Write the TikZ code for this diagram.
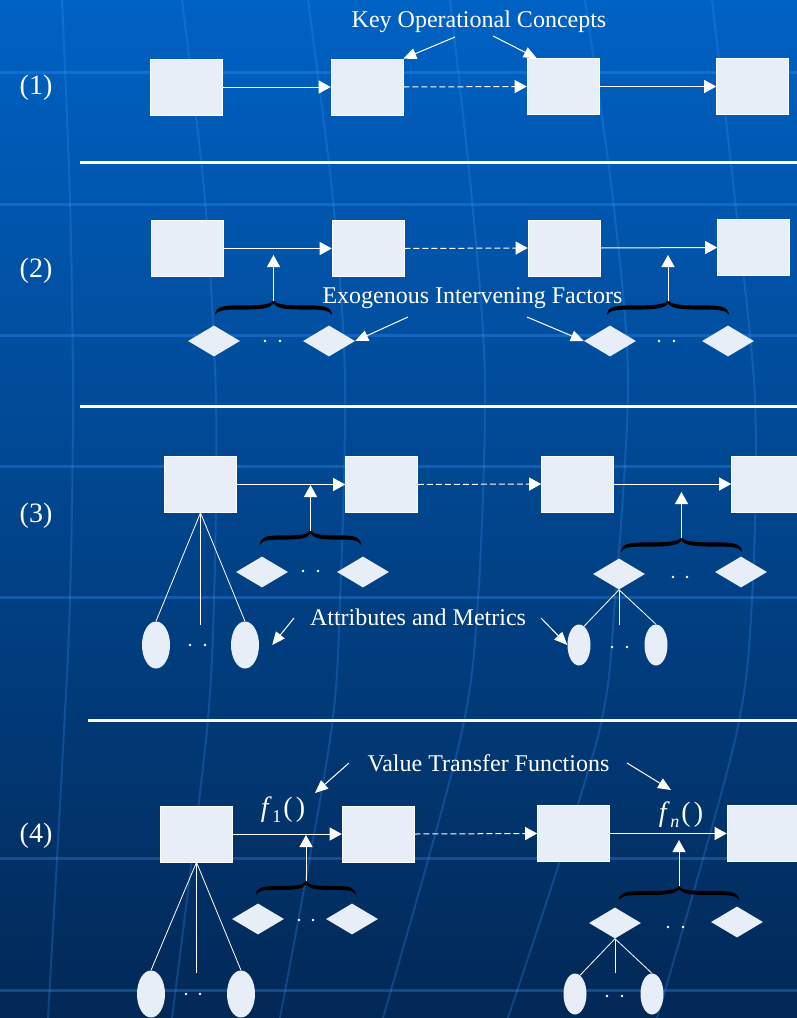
\documentclass[tikz,border=0pt]{standalone}
\usepackage{fontspec}
\setmainfont{Liberation Serif}
\usetikzlibrary{arrows.meta,shapes.geometric,calc}
\definecolor{boxfill}{RGB}{232,238,248}
\definecolor{bgtop}{RGB}{0,98,196}
\definecolor{bgmid}{RGB}{0,70,150}
\definecolor{bgbot}{RGB}{2,40,86}
\definecolor{gridc}{RGB}{60,150,255}
\begin{document}
\begin{tikzpicture}[x=1pt,y=-1pt,
  box/.style={rectangle, fill=boxfill, draw=white, line width=0.6pt, minimum width=72pt, minimum height=56pt, inner sep=0pt},
  dia/.style={diamond, fill=boxfill, minimum width=52pt, minimum height=31pt, inner sep=0pt},
  ell/.style={ellipse, fill=boxfill, minimum width=28pt, minimum height=47pt, inner sep=0pt},
  sell/.style={ellipse, fill=boxfill, minimum width=23pt, minimum height=41pt, inner sep=0pt},
  flow/.style={draw=white, line width=1pt, -{Triangle[length=12pt,width=13pt]}},
  dflow/.style={flow, dash pattern=on 6pt off 3pt},
  note/.style={draw=white, line width=1pt, -{Triangle[length=13pt,width=11pt]}},
  fan/.style={draw=white, line width=0.8pt},
  lab/.style={text=white, font=\fontsize{24}{28}\selectfont, inner sep=0pt, anchor=base},
  flab/.style={text=white, font=\fontsize{28}{32}\selectfont, inner sep=0pt},
  rowlab/.style={text=white, font=\fontsize{28}{32}\selectfont, inner sep=0pt},
  sep/.style={draw=white, line width=3pt},
  gridline/.style={draw=gridc, opacity=0.3, line width=3pt},
  gridcurve/.style={draw=gridc, opacity=0.25, line width=2pt},
  cbrace/.pic={
    \fill[black] (-1,0) .. controls (-0.99,0.5) and (-0.9,0.64) .. (-0.6,0.64)
      .. controls (-0.2,0.64) and (-0.05,0.68) .. (0,1)
      .. controls (0.05,0.68) and (0.2,0.64) .. (0.6,0.64)
      .. controls (0.9,0.64) and (0.99,0.5) .. (1,0)
      .. controls (0.95,0.3) and (0.88,0.36) .. (0.6,0.36)
      .. controls (0.2,0.36) and (0.07,0.42) .. (0,0.76)
      .. controls (-0.07,0.42) and (-0.2,0.36) .. (-0.6,0.36)
      .. controls (-0.88,0.36) and (-0.95,0.3) .. (-1,0) -- cycle;
  },
]
\useasboundingbox (0,0) rectangle (797,1018);
\begin{scope}
\clip (0,0) rectangle (797,1018);
% background
\shade[top color=bgtop, middle color=bgmid, bottom color=bgbot] (0,0) rectangle (797,1018);
\foreach \yy in {72,204,335,466,597,858,990} \draw[gridline] (0,\yy) -- (797,\yy);
\draw[gridcurve] plot[smooth] coordinates {(62,0) (70,200) (73,400) (70,600) (63,750) (48,1018)};
\draw[gridcurve] plot[smooth] coordinates {(182,0) (205,200) (216,400) (214,600) (206,740) (172,1018)};
\draw[gridcurve] plot[smooth] coordinates {(308,0) (333,200) (345,380) (340,600) (330,740) (280,1018)};
\draw[gridcurve] plot[smooth] coordinates {(450,0) (472,200) (485,380) (478,600) (460,740) (383,1018)};
\draw[gridcurve] plot[smooth] coordinates {(585,0) (613,200) (628,380) (615,600) (597,740) (508,1018)};
\draw[gridcurve] plot[smooth] coordinates {(712,0) (735,200) (755,400) (752,600) (735,740) (657,1018)};

% separators
\draw[sep] (80,162) -- (797,162);
\draw[sep] (80,406) -- (797,406);
\draw[sep] (88,720) -- (797,720);

% row labels
\node[rowlab] (n1) at (36,88) {(1)};
\node[rowlab] (n2) at (36,271) {(2)};
\node[rowlab] (n3) at (36,516) {(3)};
\node[rowlab] (n4) at (36,836) {(4)};

% ---------- row 1
\node[box] (b1a) at (186,87) {};
\node[box] (b1b) at (367,87) {};
\node[box] (b1c) at (563,86.5) {};
\node[box] (b1d) at (752.5,86.5) {};
\draw[flow] (b1a.east) -- (b1b.west);
\draw[dflow] (b1b.east) -- (b1c.west);
\draw[flow] (b1c.east) -- (b1d.west);
\node[lab] (koc) at (479,27) {Key Operational Concepts};
\coordinate (k1) at (455,37);
\coordinate (k2) at (493,36);
\draw[note] (k1) -- (b1b.north east);
\draw[note] (k2) -- ($(b1c.north west)+(10,0)$);

% ---------- row 2
\node[box] (b2a) at (187,248.5) {};
\node[box] (b2b) at (368,248.5) {};
\node[box] (b2c) at (564,248) {};
\node[box] (b2d) at (753.5,247.5) {};
\draw[flow] (b2a.east) -- (b2b.west);
\draw[dflow] (b2b.east) -- (b2c.west);
\draw[flow] (b2c.east) -- (b2d.west);
\node[dia] (d2a) at (214,341) {};
\node[dia] (d2b) at (329,341) {};
\node[dia] (d2c) at (610,341) {};
\node[dia] (d2d) at (728,341) {};
\foreach \xx in {265,280,659,674} \fill[white] (\xx,341) circle[radius=1.4pt];
\pic[xscale=58.5, yscale=-15] at (273.5,315) {cbrace};
\pic[xscale=61, yscale=-15] at (668,315) {cbrace};
\coordinate (r2a) at (273.5,301);
\coordinate (t2a) at (273.5,255);
\coordinate (r2c) at (668,301);
\coordinate (t2c) at (668,255);
\draw[flow] (r2a) -- (t2a);
\draw[flow] (r2c) -- (t2c);
\node[lab] (eif) at (472.5,303) {Exogenous Intervening Factors};
\coordinate (x1) at (408,317);
\coordinate (x2) at (527,317);
\draw[note] (x1) -- (d2b.east);
\draw[note] (x2) -- (d2c.west);

% ---------- row 3
\node[box] (b3a) at (200.5,484.5) {};
\node[box] (b3b) at (381.5,484.5) {};
\node[box] (b3c) at (577.5,484) {};
\node[box] (b3d) at (767.5,484) {};
\draw[flow] (b3a.east) -- (b3b.west);
\draw[dflow] (b3b.east) -- (b3c.west);
\draw[flow] (b3c.east) -- (b3d.west);
\node[dia] (d3a) at (262,572) {};
\node[dia] (d3b) at (363,572) {};
\node[dia] (d3c) at (619,574) {};
\node[dia] (d3d) at (741,572) {};
\fill[white] (303,571) circle[radius=1.4pt] (318,571) circle[radius=1.4pt];
\fill[white] (673,577) circle[radius=1.4pt] (687,577) circle[radius=1.4pt];
\pic[xscale=50.5, yscale=-15] at (310.5,545) {cbrace};
\pic[xscale=60.5, yscale=-15] at (681.5,552) {cbrace};
\coordinate (r3a) at (310.5,531);
\coordinate (t3a) at (310.5,485);
\coordinate (r3c) at (681.5,538);
\coordinate (t3c) at (681.5,492);
\draw[flow] (r3a) -- (t3a);
\draw[flow] (r3c) -- (t3c);
\node[ell] (e3a) at (156,645) {};
\node[ell] (e3b) at (245,645) {};
\node[sell] (e3c) at (579,645) {};
\node[sell] (e3d) at (656,645) {};
\fill[white] (190,645) circle[radius=1.4pt] (205,645) circle[radius=1.4pt];
\fill[white] (612,647) circle[radius=1.4pt] (627,647) circle[radius=1.4pt];
\coordinate (m3a) at (200.5,625);
\coordinate (m3c) at (619,625);
\draw[fan] (b3a.south) -- (e3a.north);
\draw[fan] (b3a.south) -- (m3a);
\draw[fan] (b3a.south) -- (e3b.north);
\draw[fan] (d3c.south) -- (e3c.75);
\draw[fan] (d3c.south) -- (m3c);
\draw[fan] (d3c.south) -- (e3d.north);
\node[lab] (aam) at (418,625) {Attributes and Metrics};
\coordinate (a1) at (294,618);
\coordinate (a2) at (541,618);
\draw[note] (a1) -- ($(e3b.east)+(13,0)$);
\draw[note] (a2) -- (e3c.west);

% ---------- row 4
\node[box] (b4a) at (196.5,834) {};
\node[box] (b4b) at (378,834) {};
\node[box] (b4c) at (573.5,833.5) {};
\node[box] (b4d) at (763,833.5) {};
\draw[flow] (b4a.east) -- (b4b.west);
\draw[dflow] (b4b.east) -- (b4c.west);
\draw[flow] (b4c.east) -- (b4d.west);
\node[dia] (d4a) at (258,919) {};
\node[dia] (d4b) at (352,919) {};
\node[dia] (d4c) at (615,923) {};
\node[dia] (d4d) at (737,922) {};
\fill[white] (299,920) circle[radius=1.4pt] (313,920) circle[radius=1.4pt];
\fill[white] (668,927) circle[radius=1.4pt] (683,927) circle[radius=1.4pt];
\pic[xscale=50, yscale=-14] at (306,895) {cbrace};
\pic[xscale=60, yscale=-14] at (679,900) {cbrace};
\coordinate (r4a) at (306,881);
\coordinate (t4a) at (306,835);
\coordinate (r4c) at (679,886);
\coordinate (t4c) at (679,840);
\draw[flow] (r4a) -- (t4a);
\draw[flow] (r4c) -- (t4c);
\node[ell] (e4a) at (151,994) {};
\node[ell] (e4b) at (241,994) {};
\node[sell] (e4c) at (575,994) {};
\node[sell] (e4d) at (652,994) {};
\fill[white] (186,994) circle[radius=1.4pt] (200,994) circle[radius=1.4pt];
\fill[white] (607,996) circle[radius=1.4pt] (622,996) circle[radius=1.4pt];
\coordinate (m4a) at (196.5,973);
\coordinate (m4c) at (615,973);
\draw[fan] (b4a.south) -- (e4a.north);
\draw[fan] (b4a.south) -- (m4a);
\draw[fan] (b4a.south) -- (e4b.north);
\draw[fan] (d4c.south) -- (e4c.75);
\draw[fan] (d4c.south) -- (m4c);
\draw[fan] (d4c.south) -- (e4d.north);
\node[flab] (f1) at (283,810) {\textit{f}\kern0.5pt\raisebox{-6pt}{\fontsize{18}{18}\selectfont 1}\kern2pt(\kern3pt)};
\node[flab] (fn) at (681,815) {\textit{f}\kern0.5pt\raisebox{-6pt}{\fontsize{18}{18}\selectfont\itshape n}\kern2pt(\kern3pt)};
\node[lab] (vtf) at (488.5,771) {Value Transfer Functions};
\coordinate (v1) at (349,763);
\coordinate (v2) at (627,763);
\coordinate (vt1) at (315,793);
\coordinate (vt2) at (671,790);
\draw[note] (v1) -- (vt1);
\draw[note] (v2) -- (vt2);
\end{scope}
\end{tikzpicture}
\end{document}
